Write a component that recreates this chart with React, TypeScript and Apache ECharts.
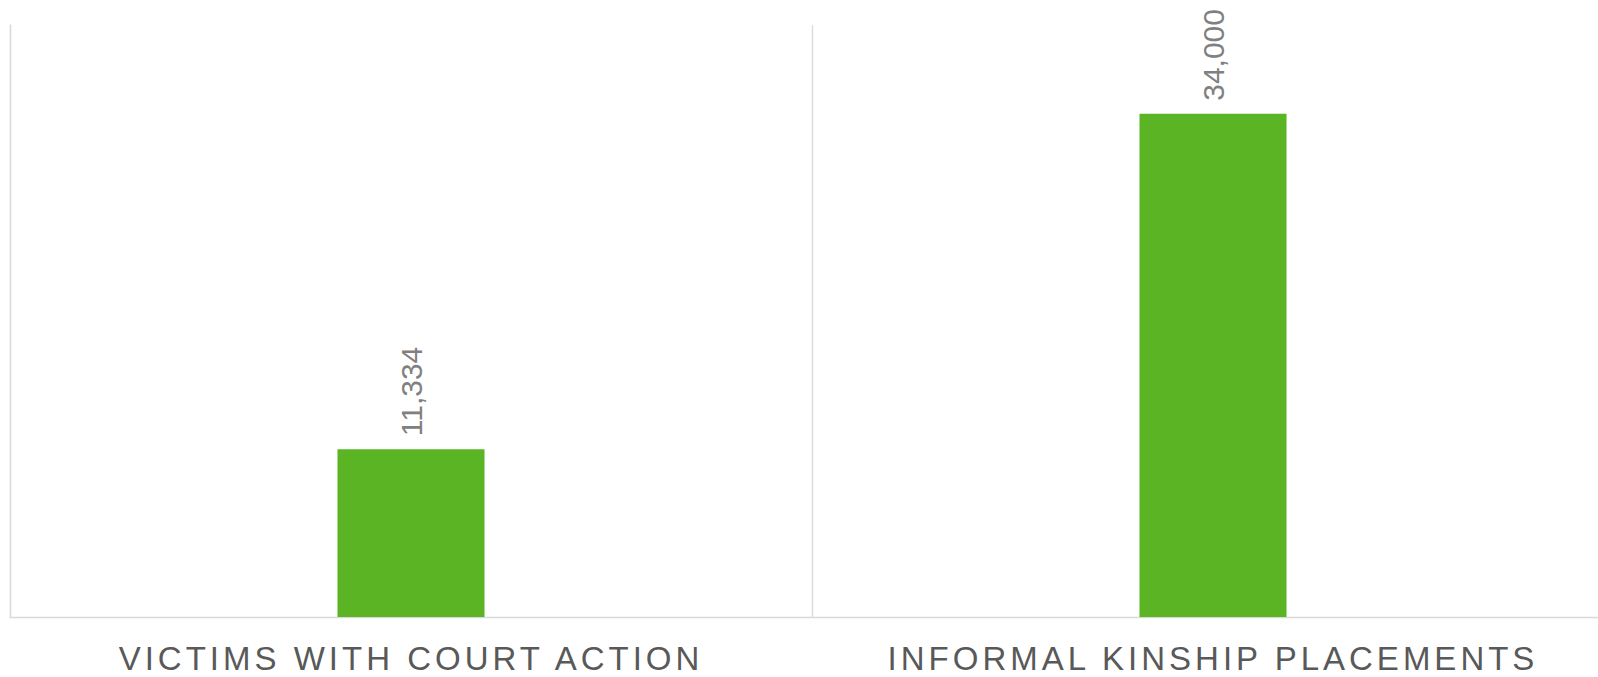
import React, { useEffect, useRef } from "react";
import * as echarts from "echarts";

const categories = ["VICTIMS WITH COURT ACTION", "INFORMAL KINSHIP PLACEMENTS"];
const values = [11334, 34000];
const axisMax = 40000;

export default function App() {
  const ref = useRef<HTMLDivElement>(null);
  useEffect(() => {
    if (!ref.current) return;
    const chart = echarts.init(ref.current, null, { renderer: "svg" });
    chart.setOption({
      animation: false,
      backgroundColor: "#ffffff",
      grid: {
        left: 10,
        top: 25,
        right: -16,
        bottom: 60,
        containLabel: false,
        outerBoundsMode: "none",
      },
      xAxis: {
        type: "category",
        data: categories,
        axisLine: { show: true, lineStyle: { color: "#d9d9d9", width: 1.3 } },
        axisTick: { show: false },
        splitLine: { show: true, lineStyle: { color: "#d9d9d9", width: 1.3 } },
        axisLabel: {
          color: "#595959",
          fontSize: 33,
          fontFamily: "Liberation Sans, Arial, sans-serif",
          margin: 25,
          interval: 0,
        },
      },
      yAxis: {
        type: "value",
        min: 0,
        max: axisMax,
        axisLine: { show: true, lineStyle: { color: "#d9d9d9", width: 1.3 } },
        axisTick: { show: false },
        axisLabel: { show: false },
        splitLine: { show: false },
      },
      series: [
        {
          type: "bar",
          data: values,
          barWidth: 147,
          itemStyle: { color: "#5ab423" },
          label: {
            show: true,
            position: "top",
            rotate: 90,
            align: "left",
            verticalAlign: "middle",
            distance: 13,
            color: "#808080",
            fontSize: 30,
            fontFamily: "Liberation Sans, Arial, sans-serif",
            formatter: (p: any) => Number(p.value).toLocaleString("en-US"),
          },
        },
      ],
    });
    const applySpacing = () => {
      const texts = ref.current?.querySelectorAll("text") || [];
      texts.forEach((t) => {
        if (categories.includes((t.textContent || "").trim())) {
          t.setAttribute("letter-spacing", "4");
        }
      });
    };
    applySpacing();
    chart.on("finished", applySpacing);
    return () => {
      chart.dispose();
    };
  }, []);
  return (
    <div
      ref={ref}
      style={{ position: "fixed", left: 0, top: 0, width: 1598, height: 677 }}
    />
  );
}
